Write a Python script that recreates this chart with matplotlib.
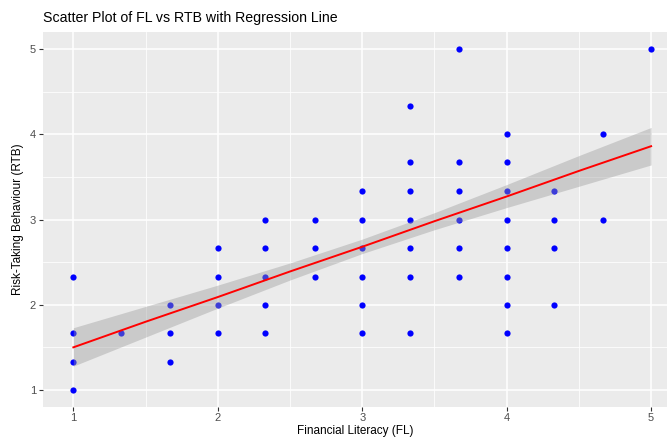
import numpy as np
import matplotlib
matplotlib.use('Agg')
import matplotlib.pyplot as plt

## data
fl = [1, 1, 1, 1,
      1.33,
      1.67, 1.67, 1.67,
      2, 2, 2, 2,
      2.33, 2.33, 2.33, 2.33, 2.33,
      2.67, 2.67, 2.67,
      3, 3, 3, 3, 3, 3,
      3.33, 3.33, 3.33, 3.33, 3.33, 3.33, 3.33,
      3.67, 3.67, 3.67, 3.67, 3.67, 3.67,
      4, 4, 4, 4, 4, 4, 4, 4,
      4.33, 4.33, 4.33, 4.33,
      4.67, 4.67,
      5]
rtb = [2.33, 1.67, 1.33, 1.0,
       1.67,
       2.0, 1.67, 1.33,
       2.67, 2.33, 2.0, 1.67,
       3.0, 2.67, 2.33, 2.0, 1.67,
       3.0, 2.67, 2.33,
       3.33, 3.0, 2.67, 2.33, 2.0, 1.67,
       4.33, 3.67, 3.33, 3.0, 2.67, 2.33, 1.67,
       5.0, 3.67, 3.33, 3.0, 2.67, 2.33,
       4.0, 3.67, 3.33, 3.0, 2.67, 2.33, 2.0, 1.67,
       3.33, 3.0, 2.67, 2.0,
       4.0, 3.0,
       5.0]

# regression line and confidence band
fit_x = [1, 1.5, 2, 2.5, 3, 3.5, 4, 4.5, 5]
fit_y = [1.50, 1.80, 2.09, 2.39, 2.68, 2.98, 3.27, 3.57, 3.86]
ci_lo = [1.28, 1.62, 1.96, 2.29, 2.60, 2.88, 3.14, 3.39, 3.64]
ci_hi = [1.73, 1.98, 2.23, 2.49, 2.77, 3.08, 3.41, 3.75, 4.08]

plt.rcParams['font.family'] = ['Liberation Sans', 'DejaVu Sans']

fig = plt.figure(figsize=(6.67, 4.37), dpi=100)
ax = fig.add_axes([43/667, 1-407/437, 1-43/667, 375/437])
ax.set_facecolor('#EBEBEB')
for s in ax.spines.values():
    s.set_visible(False)

ax.set_xlim(0.79, 5.11)
ax.set_ylim(0.8, 5.2)
ax.set_xticks([1, 2, 3, 4, 5])
ax.set_yticks([1, 2, 3, 4, 5])
ax.set_xticks([1.5, 2.5, 3.5, 4.5], minor=True)
ax.set_yticks([1.5, 2.5, 3.5, 4.5], minor=True)
ax.grid(which='major', color='white', linewidth=1.1)
ax.grid(which='minor', color='white', linewidth=0.55)
ax.set_axisbelow(True)
ax.tick_params(which='major', length=3, color='#333333', width=0.8,
               labelsize=8, labelcolor='#4D4D4D', pad=2)
ax.tick_params(axis='x', pad=1.5)
ax.tick_params(which='minor', length=0)

ax.scatter(fl, rtb, s=20, color='blue', zorder=2, linewidths=0)
ax.fill_between(fit_x, ci_lo, ci_hi, color='#999999', alpha=0.4,
                linewidth=0, zorder=3)
ax.plot(fit_x, fit_y, color='red', linewidth=1.4, zorder=4)

ax.set_xlabel('Financial Literacy (FL)', fontsize=8.5, color='black', labelpad=1)
ax.set_ylabel('Risk-Taking Behaviour (RTB)', fontsize=8.5, color='black', labelpad=4)
ax.set_title('Scatter Plot of FL vs RTB with Regression Line', fontsize=10.2,
             loc='left', pad=7)

fig.savefig('out.png', dpi=100)
